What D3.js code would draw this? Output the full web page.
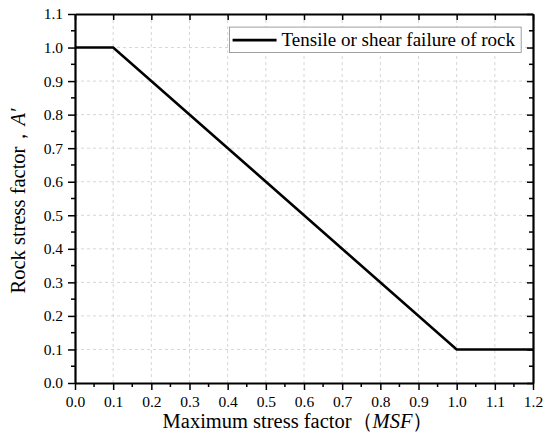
<!DOCTYPE html>
<html>
<head>
<meta charset="utf-8">
<script src="https://cdn.jsdelivr.net/npm/d3@7"></script>
<style>
  body { margin: 0; background: #fff; }
</style>
</head>
<body>
<script>
// Line data: MSF vs rock stress factor A'
const msf = [0.0, 0.1, 1.0, 1.2];
const stressFactor = [1.0, 1.0, 0.1, 0.1];
const seriesName = "Tensile or shear failure of rock";

const xTicks = [0.0, 0.1, 0.2, 0.3, 0.4, 0.5, 0.6, 0.7, 0.8, 0.9, 1.0, 1.1, 1.2];
const yTicks = [0.0, 0.1, 0.2, 0.3, 0.4, 0.5, 0.6, 0.7, 0.8, 0.9, 1.0, 1.1];

const serif = '"Liberation Serif", "Times New Roman", Times, serif';

const width = 550, height = 444;
const margin = {top: 14, right: 17, bottom: 61, left: 75};
const innerW = width - margin.left - margin.right;
const innerH = height - margin.top - margin.bottom;

const svg = d3.select("body").append("svg")
    .attr("width", width)
    .attr("height", height)
    .style("font-family", serif);

const g = svg.append("g")
    .attr("transform", `translate(${margin.left},${margin.top})`);

const x = d3.scaleLinear().domain([0, 1.2]).range([0, innerW]);
const y = d3.scaleLinear().domain([0, 1.1]).range([innerH, 0]);

// Minor ticks halfway between majors
const xMinor = d3.range(0.05, 1.2, 0.1);
const yMinor = d3.range(0.05, 1.1, 0.1);

// Grid lines (dashed, light gray)
g.append("g").selectAll("line")
    .data(xTicks.slice(1, -1))
    .enter().append("line")
    .attr("x1", d => x(d)).attr("x2", d => x(d))
    .attr("y1", 0).attr("y2", innerH)
    .attr("stroke", "#cccccc").attr("stroke-width", 0.8)
    .attr("stroke-dasharray", "3,3");

g.append("g").selectAll("line")
    .data(yTicks.slice(1, -1))
    .enter().append("line")
    .attr("y1", d => y(d)).attr("y2", d => y(d))
    .attr("x1", 0).attr("x2", innerW)
    .attr("stroke", "#cccccc").attr("stroke-width", 0.8)
    .attr("stroke-dasharray", "3,3");

// Bottom axis (outward ticks)
const xAxis = g.append("g")
    .attr("transform", `translate(0,${innerH})`)
    .call(d3.axisBottom(x).tickValues(xTicks).tickFormat(d3.format(".1f")).tickSizeInner(7).tickSizeOuter(0).tickPadding(6));
xAxis.append("g").selectAll("line")
    .data(xMinor).enter().append("line")
    .attr("x1", d => x(d)).attr("x2", d => x(d))
    .attr("y1", 0).attr("y2", 4)
    .attr("stroke", "#000").attr("stroke-width", 1.5);

// Left axis (outward ticks)
const yAxis = g.append("g")
    .call(d3.axisLeft(y).tickValues(yTicks).tickFormat(d3.format(".1f")).tickSizeInner(7).tickSizeOuter(0).tickPadding(5));
yAxis.append("g").selectAll("line")
    .data(yMinor).enter().append("line")
    .attr("y1", d => y(d)).attr("y2", d => y(d))
    .attr("x1", 0).attr("x2", -4)
    .attr("stroke", "#000").attr("stroke-width", 1.5);

// Top axis (inward ticks, majors only)
const topAxis = g.append("g")
    .call(d3.axisBottom(x).tickValues(xTicks).tickFormat("").tickSizeInner(6).tickSizeOuter(0));

// Right axis (inward ticks)
const rightAxis = g.append("g")
    .attr("transform", `translate(${innerW},0)`)
    .call(d3.axisLeft(y).tickValues(yTicks).tickFormat("").tickSizeInner(6).tickSizeOuter(0));
rightAxis.append("g").selectAll("line")
    .data(yMinor).enter().append("line")
    .attr("y1", d => y(d)).attr("y2", d => y(d))
    .attr("x1", 0).attr("x2", -4)
    .attr("stroke", "#000").attr("stroke-width", 1.5);

[xAxis, yAxis, topAxis, rightAxis].forEach(a => {
    a.attr("font-family", null).attr("font-size", null);
    a.select(".domain").attr("stroke", "#000").attr("stroke-width", 2.2);
    a.selectAll(".tick line").attr("stroke", "#000").attr("stroke-width", 1.5);
    a.selectAll(".tick text").attr("fill", "#000")
        .style("font-size", "15.5px").style("font-family", serif);
});

// Data line
const line = d3.line()
    .x((d, i) => x(msf[i]))
    .y(d => y(d));

g.append("path")
    .datum(stressFactor)
    .attr("fill", "none")
    .attr("stroke", "#000")
    .attr("stroke-width", 2.6)
    .attr("d", line);

// Legend
const legend = g.append("g").attr("transform", `translate(${x(0.405)},${y(1.061)})`);
legend.append("rect")
    .attr("width", x(1.169) - x(0.405))
    .attr("height", y(0.985) - y(1.061))
    .attr("fill", "#fff")
    .attr("stroke", "#888").attr("stroke-width", 0.8);
legend.append("line")
    .attr("x1", 3).attr("x2", 47)
    .attr("y1", 13).attr("y2", 13)
    .attr("stroke", "#000").attr("stroke-width", 2.6);
legend.append("text")
    .attr("x", 52).attr("y", 19)
    .style("font-family", serif)
    .style("font-size", "19px")
    .text(seriesName);

// Axis titles
svg.append("text")
    .attr("x", 298)
    .attr("y", 428)
    .attr("text-anchor", "middle")
    .style("font-family", serif)
    .style("font-size", "20.5px")
    .call(t => {
        t.append("tspan").text("Maximum stress factor（");
        t.append("tspan").style("font-style", "italic").text("MSF");
        t.append("tspan").text("）");
    });

svg.append("text")
    .attr("transform", `translate(25,201) rotate(-90)`)
    .attr("text-anchor", "middle")
    .style("font-family", serif)
    .style("font-size", "20.5px")
    .call(t => {
        t.append("tspan").text("Rock stress factor，");
        t.append("tspan").style("font-style", "italic").text("A′");
    });
</script>
</body>
</html>
